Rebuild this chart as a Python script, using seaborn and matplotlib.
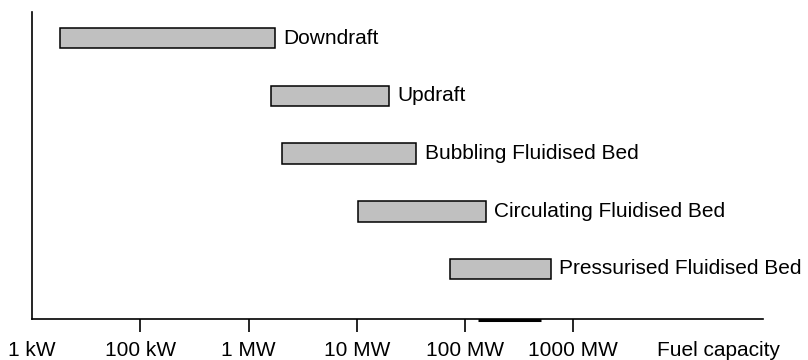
import matplotlib
matplotlib.use("Agg")
import matplotlib.pyplot as plt
import seaborn as sns
import pandas as pd

# Data (positions on a schematic capacity scale: 0 = 1 kW, 1 = 100 kW, 2 = 1 MW, ...)
processes = ["Downdraft", "Updraft", "Bubbling Fluidised Bed",
             "Circulating Fluidised Bed", "Pressurised Fluidised Bed"]
range_start = [0.26, 2.21, 2.31, 3.01, 3.86]
range_end = [2.24, 3.30, 3.55, 4.19, 4.79]
tick_positions = [0, 1, 2, 3, 4, 5]
tick_labels = ["1 kW", "100 kW", "1 MW", "10 MW", "100 MW", "1000 MW"]
axis_title = "Fuel capacity"
axis_title_pos = 6.34
marker_segment = [4.12, 4.70]

sns.set_theme(style="white")
plt.rcParams["font.family"] = ["Liberation Sans", "DejaVu Sans"]

df = pd.DataFrame({"process": processes, "start": range_start, "end": range_end})

fig = plt.figure(figsize=(8.08, 3.6), dpi=100)
ax = fig.add_axes([32 / 808, 1 - 319 / 360, (763 - 32) / 808, (319 - 11.7) / 360])

sns.barplot(data=df, x="end", y="process", order=processes, color="#c0c0c0",
            saturation=1, edgecolor="black", linewidth=1.1, width=0.357, ax=ax,
            orient="h")

for patch, s, e in zip(ax.patches, range_start, range_end):
    patch.set_x(s)
    patch.set_width(e - s)
    patch.set_facecolor("#c0c0c0")

for i, (name, e) in enumerate(zip(processes, range_end)):
    ax.annotate(name, xy=(e, i), xytext=(6, 0), textcoords="offset points",
                ha="left", va="center", fontsize=15, color="black")

ax.set_xlim(0, 6.752)
ax.set_ylim(4.868, -0.4575)

ax.set_xticks(tick_positions + [axis_title_pos])
ax.set_xticklabels(tick_labels + [axis_title], fontsize=15, color="black")
ax.tick_params(axis="x", which="major", direction="out", length=9, width=1.2,
               color="black", pad=6.5, bottom=True)
xt = ax.xaxis.get_major_ticks()
xt[0].tick1line.set_visible(False)
xt[-1].tick1line.set_visible(False)
ax.set_yticks([])
ax.set_xlabel("")
ax.set_ylabel("")

for side in ["top", "right"]:
    ax.spines[side].set_visible(False)
for side in ["left", "bottom"]:
    ax.spines[side].set_color("black")
    ax.spines[side].set_linewidth(1.2)

# thick segment just under the axis line
ax.plot(marker_segment, [4.888, 4.888], color="black", linewidth=2.2,
        solid_capstyle="butt", clip_on=False)

fig.savefig("out.png", dpi=100)
